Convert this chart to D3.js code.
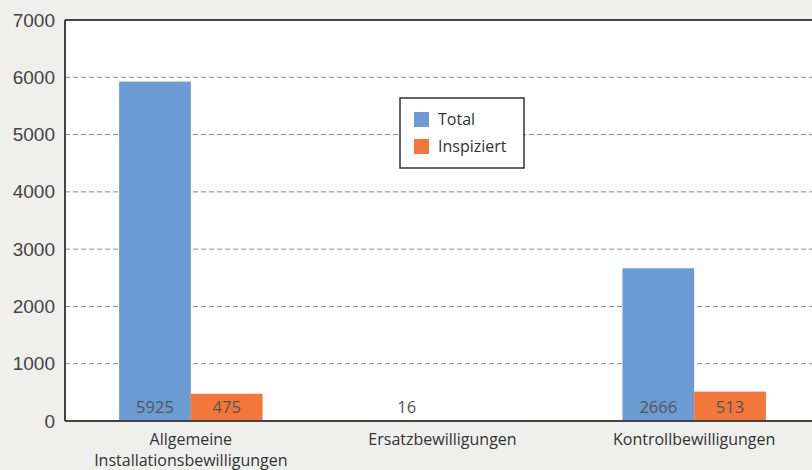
<!DOCTYPE html>
<html>
<head>
<meta charset="utf-8">
<script src="https://cdn.jsdelivr.net/npm/d3@7"></script>
<style>
  body { margin: 0; background: #efefee; }
  svg { display: block; font-family: "Open Sans", "Lato", sans-serif; }
  .tick-label { font-size: 19px; fill: #444; }
  .cat-label { font-size: 16px; fill: #333; }
  .val-label { font-size: 16.5px; fill: #555; }
  .legend text { font-size: 16px; fill: #333; }
</style>
</head>
<body>
<svg id="chart" width="812" height="470"></svg>
<script>
// data
var categories = ["Allgemeine\nInstallationsbewilligungen", "Ersatzbewilligungen", "Kontrollbewilligungen"];
var seriesNames = ["Total", "Inspiziert"];
var totalValues = [5925, 16, 2666];
var inspiziertValues = [475, null, 513];
var yTicks = [0, 1000, 2000, 3000, 4000, 5000, 6000, 7000];
var colors = ["#6b9bd2", "#f3763a"];

var margin = {top: 20, right: -8, bottom: 49, left: 65},
    width = 812 - margin.left - margin.right,
    height = 470 - margin.top - margin.bottom;

var svg = d3.select("#chart")
    .append("g")
    .attr("transform", "translate(" + margin.left + "," + margin.top + ")");

var x0 = d3.scaleBand()
    .domain(categories)
    .range([0, width])
    .paddingInner(0.43)
    .paddingOuter(0.215);

var x1 = d3.scaleBand()
    .domain(seriesNames)
    .range([0, x0.bandwidth()]);

var y = d3.scaleLinear()
    .domain([0, 7000])
    .range([height, 0]);

// plot background
svg.append("rect")
    .attr("width", width)
    .attr("height", height)
    .attr("fill", "#fff");

// gridlines
svg.selectAll(".grid")
    .data(yTicks.filter(function(d) { return d > 0 && d < 7000; }))
    .enter().append("line")
    .attr("class", "grid")
    .attr("x1", 0)
    .attr("x2", width)
    .attr("y1", function(d) { return y(d); })
    .attr("y2", function(d) { return y(d); })
    .attr("stroke", "#8a8a8a")
    .attr("stroke-width", 1)
    .attr("stroke-dasharray", "5,3");

// y axis labels
var yAxis = d3.axisLeft(y).tickValues(yTicks).tickFormat(d3.format("d")).tickSize(0).tickPadding(10);
var yg = svg.append("g").call(yAxis);
yg.select(".domain").remove();
yg.selectAll("text").attr("class", "tick-label").attr("font-size", null).attr("font-family", null).attr("fill", null);

// bars
var rows = categories.map(function(c, i) {
    return {cat: c, values: [
        {key: "Total", value: totalValues[i]},
        {key: "Inspiziert", value: inspiziertValues[i]}
    ]};
});

var group = svg.selectAll(".group")
    .data(rows)
    .enter().append("g")
    .attr("class", "group")
    .attr("transform", function(d) { return "translate(" + x0(d.cat) + ",0)"; });

var bar = group.selectAll(".bar")
    .data(function(d) { return d.values.filter(function(v) { return v.value != null; }); })
    .enter();

bar.append("rect")
    .attr("class", "bar")
    .attr("x", function(d) { return x1(d.key); })
    .attr("width", x1.bandwidth())
    .attr("y", function(d) { return y(d.value); })
    .attr("height", function(d) { return height - y(d.value); })
    .attr("fill", function(d) { return colors[seriesNames.indexOf(d.key)]; });

bar.append("text")
    .attr("class", "val-label")
    .attr("x", function(d) { return x1(d.key) + x1.bandwidth() / 2; })
    .attr("y", height - 8)
    .attr("text-anchor", "middle")
    .text(function(d) { return d.value; });

// frame
svg.append("line").attr("x1", 0).attr("x2", width).attr("y1", 0).attr("y2", 0)
    .attr("stroke", "#444").attr("stroke-width", 2);
svg.append("line").attr("x1", 0).attr("x2", 0).attr("y1", 0).attr("y2", height)
    .attr("stroke", "#444").attr("stroke-width", 2);
svg.append("line").attr("x1", 0).attr("x2", width).attr("y1", height).attr("y2", height)
    .attr("stroke", "#444").attr("stroke-width", 2);

// category labels
svg.selectAll(".cat-label")
    .data(categories)
    .enter().append("text")
    .attr("class", "cat-label")
    .attr("text-anchor", "middle")
    .attr("x", function(d) { return x0(d) + x0.bandwidth() / 2; })
    .attr("y", height + 24)
    .each(function(d) {
        var lines = d.split("\n");
        var t = d3.select(this);
        lines.forEach(function(l, i) {
            t.append("tspan")
                .attr("x", x0(d) + x0.bandwidth() / 2)
                .attr("dy", i === 0 ? 0 : 21)
                .text(l);
        });
    });

// legend
var legend = svg.append("g")
    .attr("class", "legend")
    .attr("transform", "translate(335,78)");

legend.append("rect")
    .attr("width", 124)
    .attr("height", 70)
    .attr("fill", "#fff")
    .attr("stroke", "#333")
    .attr("stroke-width", 1.5);

seriesNames.forEach(function(s, i) {
    legend.append("rect")
        .attr("x", 14)
        .attr("y", 14 + i * 27)
        .attr("width", 15)
        .attr("height", 15)
        .attr("fill", colors[i]);
    legend.append("text")
        .attr("x", 38)
        .attr("y", 27 + i * 27)
        .text(s);
});
</script>
</body>
</html>
